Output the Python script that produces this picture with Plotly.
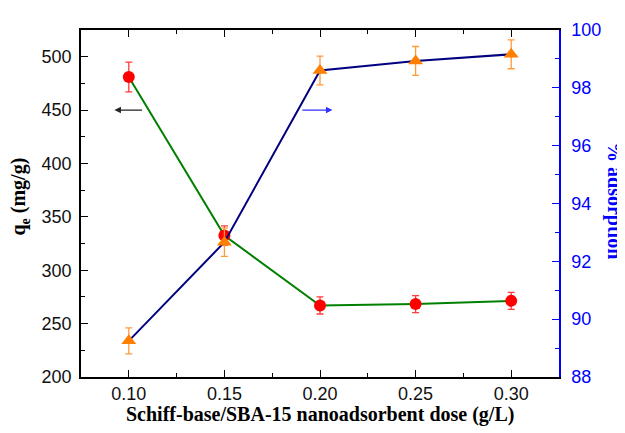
import plotly.graph_objects as go

dose = [0.10, 0.15, 0.20, 0.25, 0.30]
qe = [481, 332.5, 267, 268.3, 271.3]
qe_err = [14, 9, 8, 8, 8]
ads = [89.25, 92.66, 98.6, 98.93, 99.16]
ads_err = [0.45, 0.49, 0.5, 0.5, 0.5]
x_ticks = [0.10, 0.15, 0.20, 0.25, 0.30]
x_ticktext = ["0.10", "0.15", "0.20", "0.25", "0.30"]

fig = go.Figure()
fig.add_trace(go.Scatter(
    x=dose, y=qe, mode="lines+markers", yaxis="y",
    line=dict(color="#008000", width=2),
    marker=dict(symbol="circle", size=12, color="#ff0000"),
    error_y=dict(type="data", array=qe_err, color="#ff3b3b", thickness=1.3, width=3.5),
    showlegend=False))
fig.add_trace(go.Scatter(
    x=dose, y=ads, mode="lines+markers", yaxis="y2",
    line=dict(color="#000080", width=2),
    marker=dict(symbol="triangle-up", size=13, color="#ff8000"),
    error_y=dict(type="data", array=ads_err, color="#ff9a3b", thickness=1.3, width=3.5),
    showlegend=False))

tickfont = dict(family="Liberation Sans, Arial", size=18, color="#111111")
title_family = "Liberation Serif, Times New Roman"
fig.update_layout(
    width=617, height=425,
    margin=dict(l=73, r=66, t=12, b=56),
    paper_bgcolor="white", plot_bgcolor="white",
    xaxis=dict(range=[0.075, 0.325], tickvals=x_ticks, ticktext=x_ticktext,
               ticks="inside", ticklen=7, tickwidth=1.3, tickcolor="black",
               minor=dict(dtick=0.025, tick0=0.1, ticks="inside", ticklen=4, tickcolor="black"),
               showline=True, linecolor="black", linewidth=1.5, mirror="ticks",
               showgrid=False, zeroline=False, tickfont=tickfont, ticklabelstandoff=0),
    yaxis=dict(range=[200, 525], dtick=50, tick0=200,
               ticks="inside", ticklen=7, tickwidth=1.3, tickcolor="black",
               minor=dict(dtick=25, ticks="inside", ticklen=4, tickcolor="black"),
               showline=True, linecolor="black", linewidth=1.5,
               showgrid=False, zeroline=False, tickfont=tickfont, ticklabelstandoff=4),
    yaxis2=dict(range=[88, 100], dtick=2, tick0=88, overlaying="y", side="right",
                ticks="inside", ticklen=7, tickwidth=1.3, tickcolor="#0000ff",
                minor=dict(dtick=1, ticks="inside", ticklen=4, tickcolor="#0000ff"),
                showline=True, linecolor="#0000ff", linewidth=1.5,
                showgrid=False, zeroline=False,
                tickfont=dict(family="Liberation Sans, Arial", size=18, color="#0000ff"),
                ticklabelstandoff=7),
    annotations=[
        dict(text="<b>Schiff-base/SBA-15 nanoadsorbent dose (g/L)</b>", xref="paper", yref="paper",
             x=0.5, y=0, yshift=-37, showarrow=False, yanchor="middle",
             font=dict(family=title_family, size=20, color="black")),
        dict(text="<b>q<sub>e</sub> (mg/g)</b>", xref="paper", yref="paper",
             x=0, xshift=-61, y=0.52, showarrow=False, textangle=-90, xanchor="center",
             font=dict(family=title_family, size=20, color="black")),
        dict(text="<b>% adsorption</b>", xref="paper", yref="paper",
             x=1, xshift=56, y=0.51, showarrow=False, textangle=90, xanchor="center",
             font=dict(family=title_family, size=20, color="#0000ff")),
        dict(x=0.0925, y=450, ax=0.1077, ay=450, xref="x", yref="y", axref="x", ayref="y",
             text="", showarrow=True, arrowhead=2, arrowsize=1, arrowwidth=1.3, arrowcolor="#222222"),
        dict(x=0.2065, y=450, ax=0.190, ay=450, xref="x", yref="y", axref="x", ayref="y",
             text="", showarrow=True, arrowhead=2, arrowsize=1, arrowwidth=1.3, arrowcolor="#3030ff"),
    ],
)
fig.write_html("out.html")
